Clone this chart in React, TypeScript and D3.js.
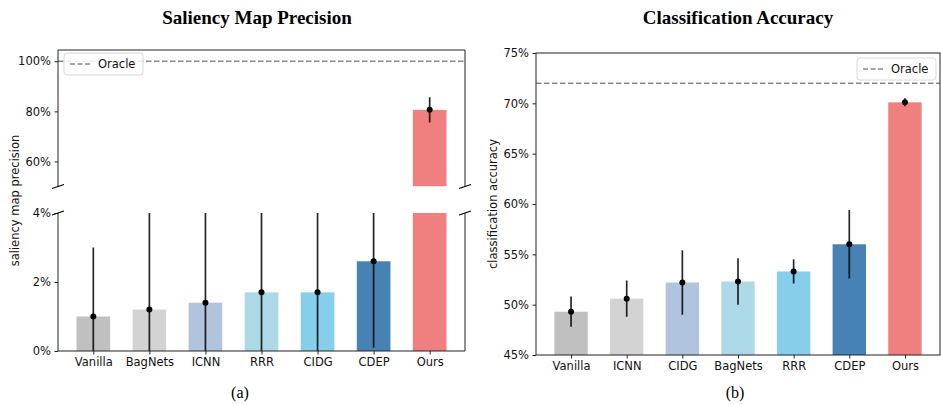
import { useEffect, useRef } from "react";
import * as d3 from "d3";

// saliency map precision (%), left panel
const salMethods = ["Vanilla", "BagNets", "ICNN", "RRR", "CIDG", "CDEP", "Ours"];
const salValues = [1.0, 1.2, 1.4, 1.7, 1.7, 2.6, 80.6];
const salErrors = [2.0, 3.2, 3.0, 3.1, 2.9, 2.5, 5.0];
const salOracle = 100;

// classification accuracy (%), right panel
const accMethods = ["Vanilla", "ICNN", "CIDG", "BagNets", "RRR", "CDEP", "Ours"];
const accValues = [49.3, 50.6, 52.2, 52.3, 53.3, 56.0, 70.1];
const accErrors = [1.5, 1.8, 3.2, 2.3, 1.2, 3.4, 0.4];
const accOracle = 72;

// bar colours go by position, same sequence in both panels
const barColors = ["#c0c0c0", "#d3d3d3", "#b0c4de", "#add8e6", "#87ceeb", "#4682b4", "#f08080"];

const W = 941;
const H = 404;
const sans = "DejaVu Sans, sans-serif";
const serif = "Liberation Serif, Times New Roman, serif";
const spine = "#222";
const fs = 11.5;

export default function App() {
  const svgRef = useRef<SVGSVGElement>(null);

  useEffect(() => {
    const svg = d3.select(svgRef.current);
    svg.selectAll("*").remove();
    svg.attr("width", W).attr("height", H).style("background", "#fff");
    const defs = svg.append("defs");

    const styleAxis = (g: any) => {
      g.select("path.domain").remove();
      g.selectAll("line").attr("stroke", spine);
      g.selectAll("text").attr("fill", "#111").attr("font-size", fs).attr("font-family", sans);
    };

    const xScaleFor = (methods: string[], left: number, right: number) =>
      d3.scaleLinear().domain([-0.63, methods.length - 1 + 0.63]).range([left, right]);

    const barW = 0.6;

    // bars + error bars, clipped to one panel
    const drawPanel = (
      id: string,
      methods: string[],
      values: number[],
      errors: number[],
      x: d3.ScaleLinear<number, number>,
      y: d3.ScaleLinear<number, number>,
      x0: number,
      x1: number,
      y0: number,
      y1: number
    ) => {
      defs
        .append("clipPath")
        .attr("id", id)
        .append("rect")
        .attr("x", x0)
        .attr("y", y0)
        .attr("width", x1 - x0)
        .attr("height", y1 - y0);
      const g = svg.append("g").attr("clip-path", `url(#${id})`);
      const base = y.domain()[0];
      g.selectAll("rect.bar")
        .data(methods)
        .join("rect")
        .attr("class", "bar")
        .attr("x", (_, i) => x(i - barW / 2))
        .attr("width", (_, i) => x(i + barW / 2) - x(i - barW / 2))
        .attr("y", (_, i) => y(values[i]))
        .attr("height", (_, i) => Math.max(0, y(base) - y(values[i])))
        .attr("fill", (_, i) => barColors[i]);
      g.selectAll("line.err")
        .data(methods)
        .join("line")
        .attr("class", "err")
        .attr("x1", (_, i) => x(i))
        .attr("x2", (_, i) => x(i))
        .attr("y1", (_, i) => y(values[i] - errors[i]))
        .attr("y2", (_, i) => y(values[i] + errors[i]))
        .attr("stroke", "#000")
        .attr("stroke-opacity", 0.85)
        .attr("stroke-width", 1.7);
      g.selectAll("circle.dot")
        .data(methods)
        .join("circle")
        .attr("class", "dot")
        .attr("cx", (_, i) => x(i))
        .attr("cy", (_, i) => y(values[i]))
        .attr("r", 3)
        .attr("fill", "#000");
      return g;
    };

    const legend = (lx: number, ly: number) => {
      const g = svg.append("g").attr("transform", `translate(${lx},${ly})`);
      g.append("rect")
        .attr("width", 79)
        .attr("height", 22)
        .attr("rx", 3)
        .attr("fill", "#fff")
        .attr("fill-opacity", 0.85)
        .attr("stroke", "#d8d8d8");
      g.append("line")
        .attr("x1", 6)
        .attr("x2", 27)
        .attr("y1", 11)
        .attr("y2", 11)
        .attr("stroke", "#888")
        .attr("stroke-width", 1.5)
        .attr("stroke-dasharray", "5,2.5");
      g.append("text")
        .attr("x", 34)
        .attr("y", 15)
        .attr("font-size", fs)
        .attr("font-family", sans)
        .attr("fill", "#111")
        .text("Oracle");
    };

    // ---------- left: saliency map precision ----------
    const L = { left: 58, right: 465 };
    const top = { y0: 50, y1: 186.5 };
    const bot = { y0: 213, y1: 351 };
    const xl = xScaleFor(salMethods, L.left, L.right);
    const yTop = d3.scaleLinear().domain([50, 104.5]).range([top.y1, top.y0]);
    const yBot = d3.scaleLinear().domain([0, 4]).range([bot.y1, bot.y0]);

    svg
      .append("line")
      .attr("x1", L.left)
      .attr("x2", L.right)
      .attr("y1", yTop(salOracle))
      .attr("y2", yTop(salOracle))
      .attr("stroke", "#888")
      .attr("stroke-width", 1.5)
      .attr("stroke-dasharray", "5.5,2.5");

    drawPanel("clipTop", salMethods, salValues, salErrors, xl, yTop, L.left, L.right, top.y0, top.y1);
    drawPanel("clipBot", salMethods, salValues, salErrors, xl, yBot, L.left, L.right, bot.y0, bot.y1);

    svg
      .append("g")
      .attr("transform", `translate(${L.left},0)`)
      .call(d3.axisLeft(yTop).tickValues([60, 80, 100]).tickSize(3.5).tickPadding(3.5).tickFormat((d) => `${d}%`))
      .call(styleAxis);
    svg
      .append("g")
      .attr("transform", `translate(${L.left},0)`)
      .call(d3.axisLeft(yBot).tickValues([0, 2, 4]).tickSize(3.5).tickPadding(3.5).tickFormat((d) => `${d}%`))
      .call(styleAxis);
    svg
      .append("g")
      .attr("transform", `translate(0,${bot.y1})`)
      .call(
        d3
          .axisBottom(xl)
          .tickValues(d3.range(salMethods.length))
          .tickSize(3.5)
          .tickPadding(3.5)
          .tickFormat((d) => salMethods[d as number])
      )
      .call(styleAxis);

    const spines = svg.append("g").attr("stroke", spine).attr("stroke-width", 1).attr("fill", "none");
    spines.append("path").attr("d", `M${L.left},${top.y1}V${top.y0}H${L.right}V${top.y1}`);
    spines.append("path").attr("d", `M${L.left},${bot.y0}V${bot.y1}H${L.right}V${bot.y0}`);
    const breaks = svg.append("g").attr("stroke", "#000").attr("stroke-width", 1.3);
    [L.left, L.right].forEach((bx) =>
      [top.y1, bot.y0].forEach((by) =>
        breaks
          .append("line")
          .attr("x1", bx - 6)
          .attr("y1", by + 2)
          .attr("x2", bx + 6)
          .attr("y2", by - 2)
      )
    );

    legend(64, 53);

    svg
      .append("text")
      .attr("transform", `translate(19,${(top.y0 + bot.y1) / 2}) rotate(-90)`)
      .attr("text-anchor", "middle")
      .attr("font-size", fs)
      .attr("font-family", sans)
      .attr("fill", "#111")
      .text("saliency map precision");

    svg
      .append("text")
      .attr("x", 257)
      .attr("y", 24)
      .attr("text-anchor", "middle")
      .attr("font-size", 19)
      .attr("font-weight", "bold")
      .attr("font-family", serif)
      .attr("fill", "#000")
      .text("Saliency Map Precision");
    svg
      .append("text")
      .attr("x", 240)
      .attr("y", 398)
      .attr("text-anchor", "middle")
      .attr("font-size", 16)
      .attr("font-family", serif)
      .attr("fill", "#000")
      .text("(a)");

    // ---------- right: classification accuracy ----------
    const R = { left: 536, right: 940, y0: 53, y1: 355 };
    const xr = xScaleFor(accMethods, R.left, R.right);
    const yr = d3.scaleLinear().domain([45, 75]).range([R.y1, R.y0]);

    svg
      .append("line")
      .attr("x1", R.left)
      .attr("x2", R.right)
      .attr("y1", yr(accOracle))
      .attr("y2", yr(accOracle))
      .attr("stroke", "#888")
      .attr("stroke-width", 1.5)
      .attr("stroke-dasharray", "5.5,2.5");

    drawPanel("clipR", accMethods, accValues, accErrors, xr, yr, R.left, R.right, R.y0, R.y1);

    svg
      .append("g")
      .attr("transform", `translate(${R.left},0)`)
      .call(d3.axisLeft(yr).tickValues(d3.range(45, 76, 5)).tickSize(3.5).tickPadding(3.5).tickFormat((d) => `${d}%`))
      .call(styleAxis);
    svg
      .append("g")
      .attr("transform", `translate(0,${R.y1})`)
      .call(
        d3
          .axisBottom(xr)
          .tickValues(d3.range(accMethods.length))
          .tickSize(3.5)
          .tickPadding(3.5)
          .tickFormat((d) => accMethods[d as number])
      )
      .call(styleAxis);
    svg
      .append("rect")
      .attr("x", R.left)
      .attr("y", R.y0)
      .attr("width", R.right - R.left)
      .attr("height", R.y1 - R.y0)
      .attr("fill", "none")
      .attr("stroke", spine)
      .attr("stroke-width", 1);

    legend(857, 58);

    svg
      .append("text")
      .attr("transform", `translate(497,${(R.y0 + R.y1) / 2}) rotate(-90)`)
      .attr("text-anchor", "middle")
      .attr("font-size", fs)
      .attr("font-family", sans)
      .attr("fill", "#111")
      .text("classification accuracy");

    svg
      .append("text")
      .attr("x", 738)
      .attr("y", 24)
      .attr("text-anchor", "middle")
      .attr("font-size", 19)
      .attr("font-weight", "bold")
      .attr("font-family", serif)
      .attr("fill", "#000")
      .text("Classification Accuracy");
    svg
      .append("text")
      .attr("x", 735)
      .attr("y", 398)
      .attr("text-anchor", "middle")
      .attr("font-size", 16)
      .attr("font-family", serif)
      .attr("fill", "#000")
      .text("(b)");
  }, []);

  return (
    <div style={{ position: "absolute", left: 0, top: 0 }}>
      <svg ref={svgRef} />
    </div>
  );
}
